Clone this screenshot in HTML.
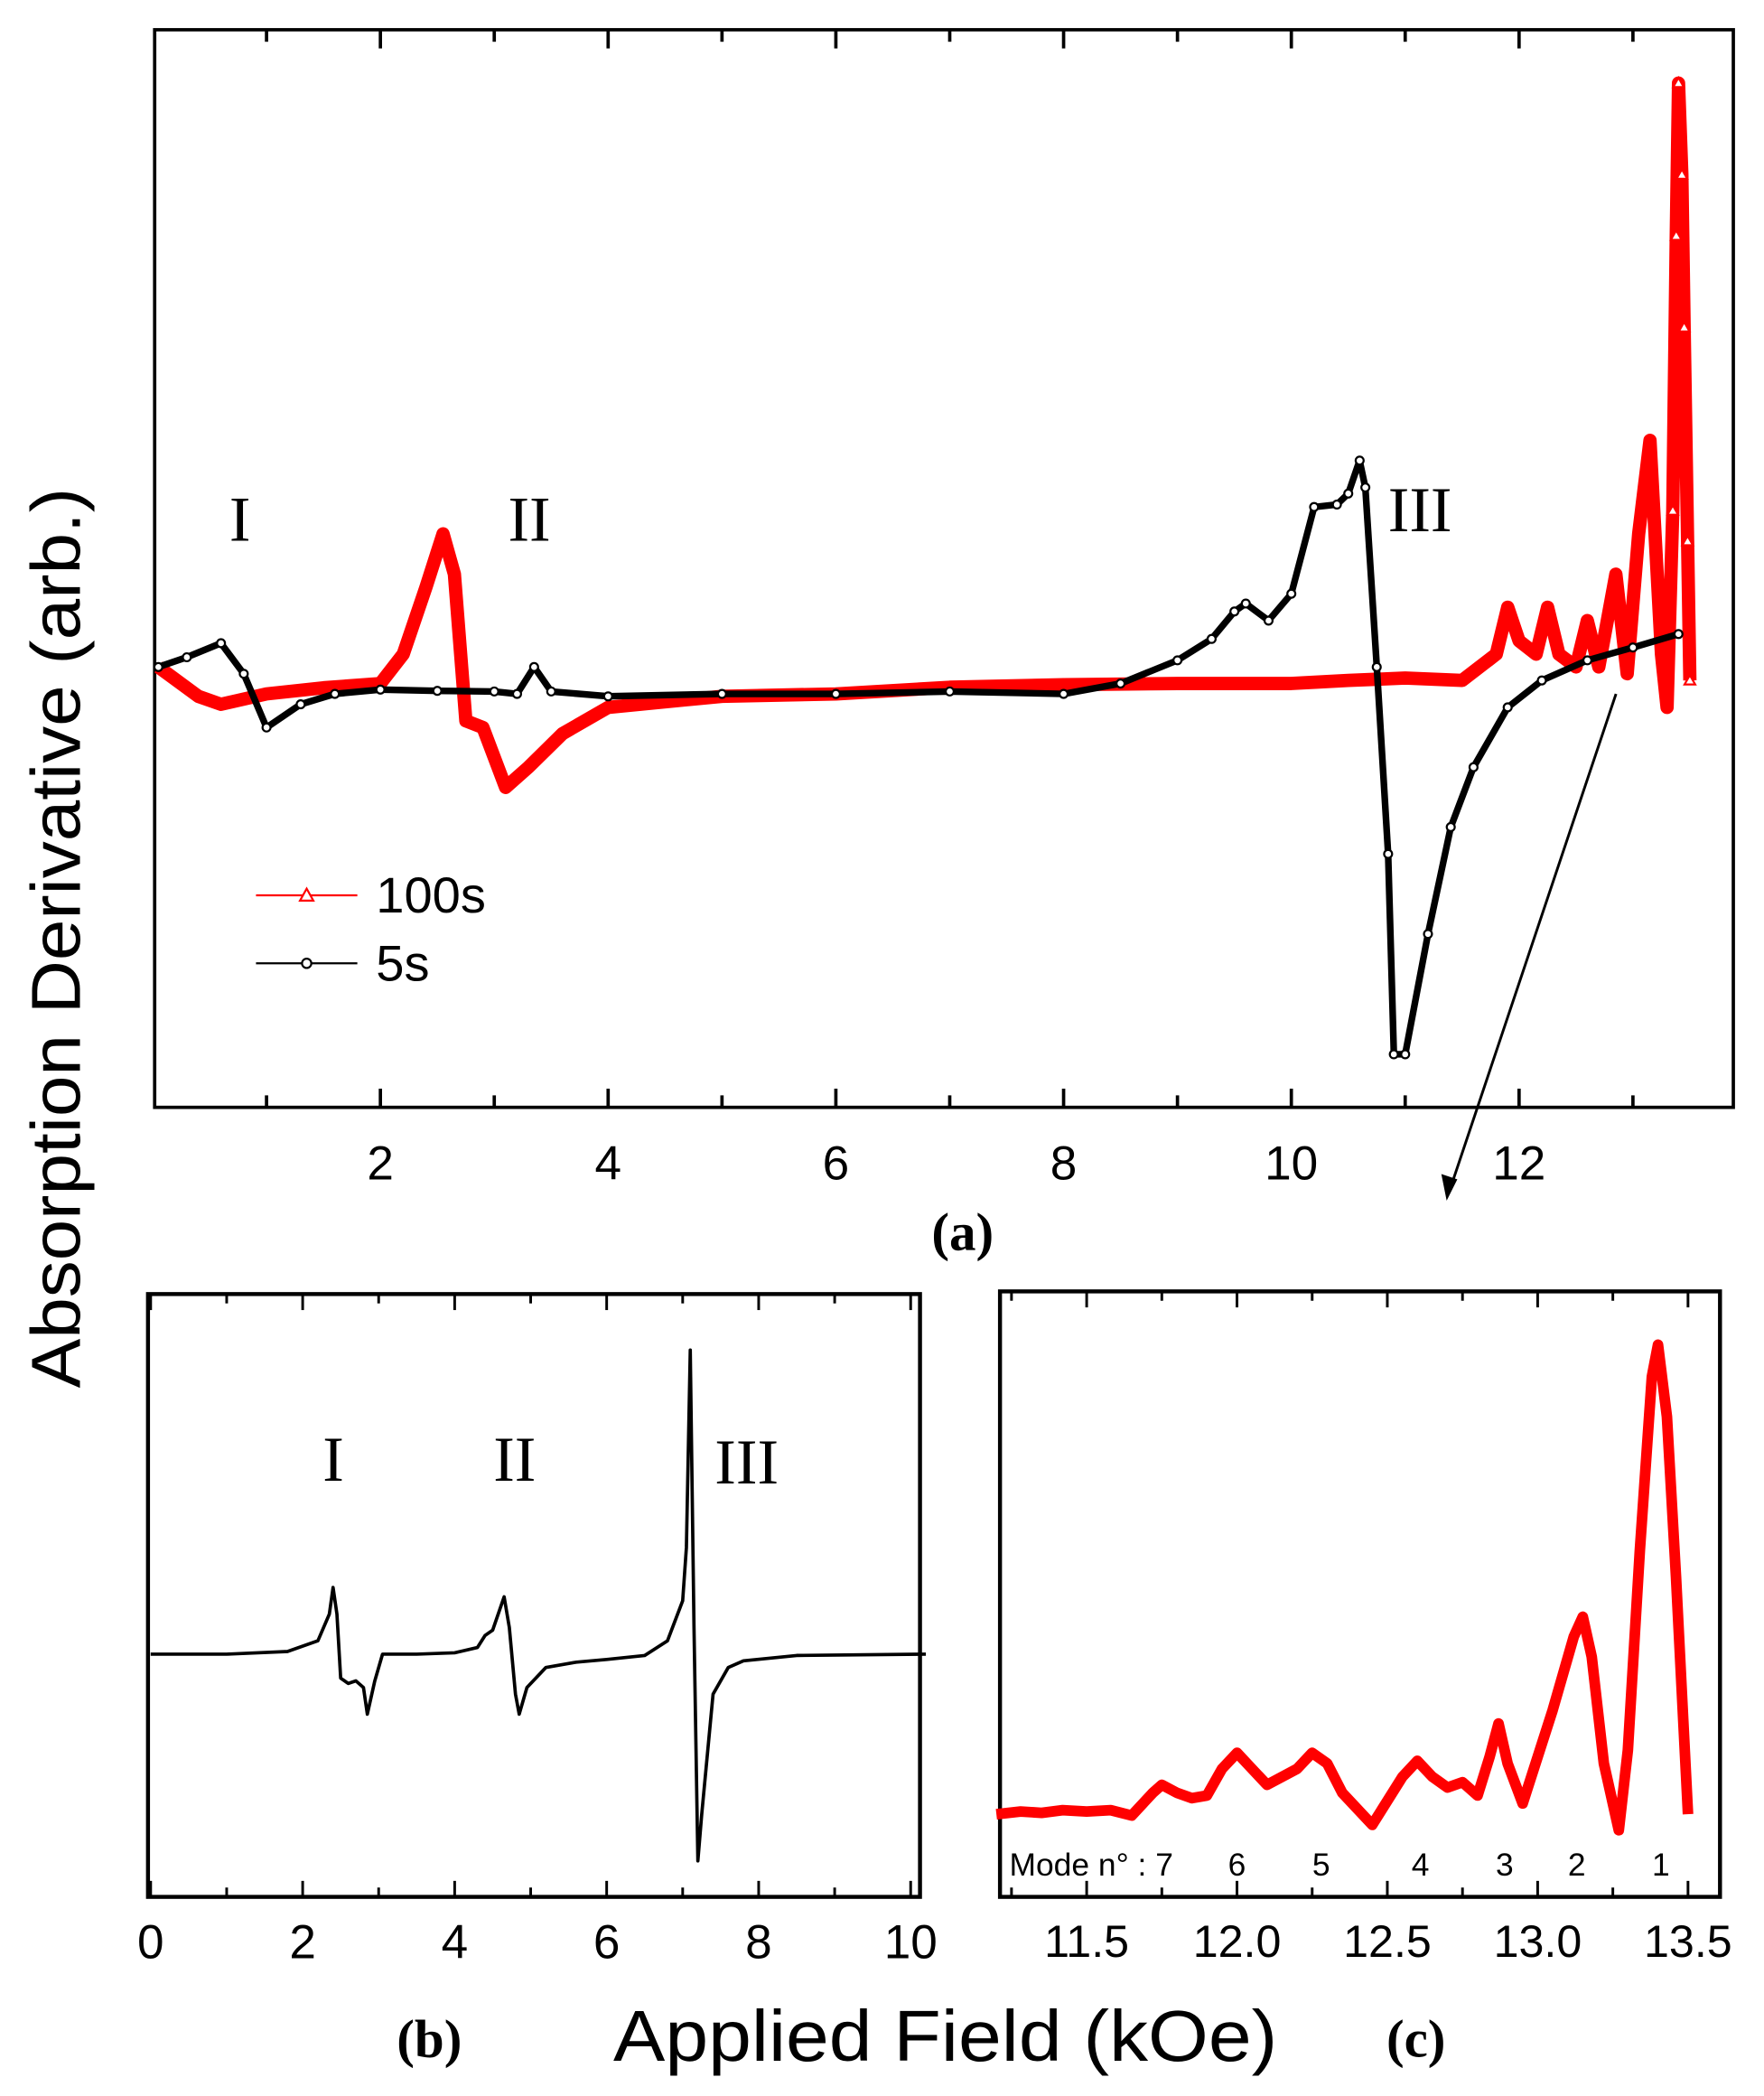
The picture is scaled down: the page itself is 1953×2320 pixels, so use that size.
<!DOCTYPE html>
<html><head><meta charset="utf-8"><style>
html,body{margin:0;padding:0;background:#fff}
svg{display:block}
text{font-family:"Liberation Sans",sans-serif}
.serif{font-family:"Liberation Serif",serif}
</style></head><body>
<svg id="fig" width="1953" height="2320" viewBox="0 0 1323 1571" xmlns="http://www.w3.org/2000/svg">
<g id="pa"></g>
<g id="pb"></g>
<g id="pc"></g>
<text transform="translate(60,703) rotate(-90)" text-anchor="middle" font-size="52" textLength="675" lengthAdjust="spacingAndGlyphs">Absorption Derivative (arb.)</text>
<text x="709" y="1545" text-anchor="middle" font-size="54" textLength="498" lengthAdjust="spacingAndGlyphs">Applied Field (kOe)</text>
<text class="serif" x="722" y="937" text-anchor="middle" font-size="40" font-weight="bold">(a)</text>
<text class="serif" x="322" y="1542" text-anchor="middle" font-size="40" font-weight="bold">(b)</text>
<text class="serif" x="1062" y="1542" text-anchor="middle" font-size="40" font-weight="bold">(c)</text>
</svg>
<script>
// Panel (a) data
const aBlackX=[0.05,0.3,0.6,0.8,1.0,1.3,1.6,2,2.5,3,3.2,3.35,3.5,4,5,6,7,8,8.5,9,9.3,9.5,9.6,9.8,10,10.2,10.4,10.5,10.6,10.65,10.75,10.85,10.9,11.0,11.2,11.4,11.6,11.9,12.2,12.6,13,13.4];
const aBlackY=[4.4,6,8.3,3.3,-5.5,-1.7,0,0.7,0.5,0.4,0,4.4,0.4,-0.4,0,0,0.4,0,1.7,5.5,9,13.5,14.8,12,16.4,30.6,31,32.8,38.2,33.8,4.4,-26.2,-59,-59,-39.3,-21.8,-12,-2.2,2.2,5.5,7.6,9.8];
const aRedX=[0.05,0.4,0.6,1,1.5,2,2.2,2.4,2.55,2.65,2.75,2.9,3.1,3.3,3.6,4,5,6,7,8,9,10,10.5,11,11.5,11.8,11.9,12.0,12.15,12.25,12.35,12.5,12.6,12.7,12.85,12.95,13.05,13.15,13.25,13.3,13.35,13.38,13.4,13.43,13.45,13.48,13.5];
const aRedY=[4.4,-0.4,-1.7,0,1,1.7,6.5,17.5,26.2,19.6,-4.4,-5.5,-15.3,-12,-6.5,-2.2,-0.4,0,1.1,1.5,1.7,1.7,2.2,2.6,2.2,6.5,14.2,8.7,6.5,14.2,6.5,4.4,12,4.4,19.6,3.3,26.2,41.5,6.5,-2.2,30,75,100,85,60,25,2.2];
const aXTicks=[2,4,6,8,10,12];
// Panel (b) data
const bX=[0,1,1.8,2.2,2.35,2.4,2.45,2.5,2.6,2.7,2.8,2.85,2.95,3.05,3.5,4.0,4.3,4.4,4.5,4.65,4.72,4.8,4.85,4.95,5.2,5.6,6,6.5,6.8,7.0,7.05,7.1,7.15,7.2,7.25,7.4,7.6,7.8,8.5,10.2];
const bY=[0,0,2,10,30,50,30,-18,-22,-20,-25,-45,-20,0,0,1,5,14,18,43,20,-30,-45,-25,-10,-6,-4,-1,10,40,80,228,20,-155,-120,-30,-10,-5,-1,0];
const bXTicks=[0,2,4,6,8,10];
// Panel (c) data
const cX=[11.2,11.28,11.35,11.42,11.5,11.58,11.65,11.72,11.75,11.8,11.85,11.9,11.95,12.0,12.05,12.1,12.2,12.25,12.3,12.35,12.45,12.55,12.6,12.65,12.7,12.75,12.8,12.84,12.87,12.9,12.95,13.05,13.12,13.15,13.18,13.22,13.27,13.3,13.34,13.38,13.4,13.43,13.46,13.5];
const cY=[2,4,3,5,4,5,1,18,24,18,14,16,36,48,36,24,36,48,40,18,-6,30,42,30,22,26,16,45,70,40,10,80,135,150,120,40,-10,50,200,330,354,300,180,2];
const cXTicks=[11.5,12.0,12.5,13.0,13.5];
const cModes=["6","5","4","3","2","1"];
const cModeX=[12.0,12.28,12.61,12.89,13.13,13.41];

const NS="http://www.w3.org/2000/svg";
function mk(p,tag,at){const e=document.createElementNS(NS,tag);for(const k in at)e.setAttribute(k,at[k]);p.appendChild(e);return e;}
function pts(xs,ys,fx,fy){return xs.map((x,i)=>fx(x).toFixed(1)+","+fy(ys[i]).toFixed(1)).join(" ");}

// ---- Panel A
const pa=document.getElementById('pa');
const ax=x=>114.5+x*85.4, ay=v=>520-v*4.58;
let f=mk(pa,'rect',{x:116,y:22,width:1184,height:808,fill:'none',stroke:'#000','stroke-width':2.5});

for(let t=1;t<=13;t++){const X=ax(t),L=t%2?9:14;
 let e=mk(pa,'line',{x1:X,x2:X,y1:830,y2:830-L,stroke:'#000','stroke-width':2.5});
 
 let e2=mk(pa,'line',{x1:X,x2:X,y1:22,y2:22+L,stroke:'#000','stroke-width':2.5});
 }
aXTicks.forEach(t=>{let e=mk(pa,'text',{x:ax(t),y:884,'text-anchor':'middle','font-size':36});e.textContent=t;
 });
let red=mk(pa,'polyline',{points:pts(aRedX,aRedY,ax,ay),fill:'none',stroke:'#f00','stroke-width':10,'stroke-linejoin':'round'});

aRedX.forEach((x,i)=>{if(x>=13.35){const X=ax(x),Y=ay(aRedY[i]);
 let e=mk(pa,'path',{d:`M${X-4},${Y+3}L${X+4},${Y+3}L${X},${Y-4}Z`,fill:'#fff',stroke:'#f00','stroke-width':1.5});
 }});
let blk=mk(pa,'polyline',{points:pts(aBlackX,aBlackY,ax,ay),fill:'none',stroke:'#000','stroke-width':5,'stroke-linejoin':'round'});

aBlackX.forEach((x,i)=>{let e=mk(pa,'circle',{cx:ax(x),cy:ay(aBlackY[i]),r:3,fill:'#fff',stroke:'#000','stroke-width':1.5});
 });
[["I",180,405],["II",397,405],["III",1065,398]].forEach(([s,x,y])=>{let e=mk(pa,'text',{x:x,y:y,'text-anchor':'middle','font-size':48,class:'serif'});e.textContent=s;
 });
// legend
let lg=mk(pa,'g',{});
mk(lg,'line',{x1:192,x2:268,y1:671,y2:671,stroke:'#f00','stroke-width':1.5});
mk(lg,'path',{d:'M225,675L235,675L230,666Z',fill:'#fff',stroke:'#f00','stroke-width':1.5});
let t1=mk(lg,'text',{x:282,y:684,'font-size':38});t1.textContent='100s';

mk(lg,'line',{x1:192,x2:268,y1:722,y2:722,stroke:'#000','stroke-width':1.5});
mk(lg,'circle',{cx:230,cy:722,r:3.5,fill:'#fff',stroke:'#000','stroke-width':1.5});
let t2=mk(lg,'text',{x:282,y:735,'font-size':38});t2.textContent='5s';

// arrow
let ar=mk(pa,'line',{x1:1212,y1:520,x2:1087,y2:893,stroke:'#000','stroke-width':2});

mk(pa,'path',{d:'M1085,900L1081,880L1093,884Z',fill:'#000'});

// ---- Panel B
const pb=document.getElementById('pb');
const bx=x=>113+x*57, by=v=>1240-v*1.0;
f=mk(pb,'rect',{x:111,y:970,width:579,height:452,fill:'none',stroke:'#000','stroke-width':3});

for(let t=0;t<=10;t++){const X=bx(t),L=t%2?7:12;
 let e=mk(pb,'line',{x1:X,x2:X,y1:1422,y2:1422-L,stroke:'#000','stroke-width':2});
 
 let e2=mk(pb,'line',{x1:X,x2:X,y1:970,y2:970+L,stroke:'#000','stroke-width':2});
 }
bXTicks.forEach(t=>{let e=mk(pb,'text',{x:bx(t),y:1468,'text-anchor':'middle','font-size':36});e.textContent=t;
 });
let bl=mk(pb,'polyline',{points:pts(bX,bY,bx,by),fill:'none',stroke:'#000','stroke-width':2.5,'stroke-linejoin':'round'});

[["I",250,1110],["II",386,1110],["III",560,1112]].forEach(([s,x,y])=>{let e=mk(pb,'text',{x:x,y:y,'text-anchor':'middle','font-size':48,class:'serif'});e.textContent=s;
 });

// ---- Panel C
const pc=document.getElementById('pc');
const cx=x=>815+(x-11.5)*225.5, cy=v=>1362-v*1.0;
f=mk(pc,'rect',{x:750,y:968,width:540,height:454,fill:'none',stroke:'#000','stroke-width':3});

for(let t=11.25;t<=13.51;t+=0.25){const X=cx(t),L=(Math.round(t*4)%2)?7:12;
 let e=mk(pc,'line',{x1:X,x2:X,y1:1422,y2:1422-L,stroke:'#000','stroke-width':2});
 
 let e2=mk(pc,'line',{x1:X,x2:X,y1:968,y2:968+L,stroke:'#000','stroke-width':2});
 }
cXTicks.forEach(t=>{let e=mk(pc,'text',{x:cx(t),y:1467,'text-anchor':'middle','font-size':34});e.textContent=t.toFixed(1);
 });
let cl=mk(pc,'polyline',{points:pts(cX,cY,cx,cy),fill:'none',stroke:'#f00','stroke-width':8,'stroke-linejoin':'round'});

let mt=mk(pc,'text',{x:757,y:1406,'font-size':24});mt.textContent='Mode n° : 7';

cModes.forEach((m,i)=>{let e=mk(pc,'text',{x:cx(cModeX[i]),y:1406,'text-anchor':'middle','font-size':24});e.textContent=m;
 });
</script>
</body></html>
